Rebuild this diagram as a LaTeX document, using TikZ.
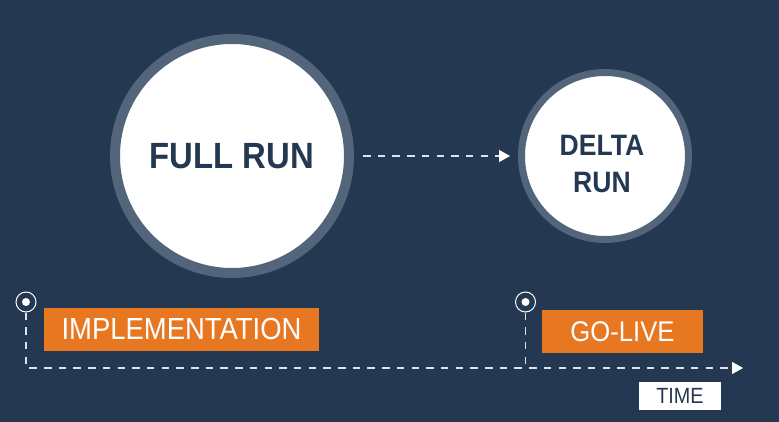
\documentclass[tikz,border=0pt]{standalone}
\usepackage{fontspec}
\setmainfont[FakeStretch=0.9]{Liberation Sans}
\usepackage{tikz}
\usetikzlibrary{arrows.meta}

\definecolor{BgBlue}{HTML}{253852}
\definecolor{RingBlue}{HTML}{52657A}
\definecolor{TagOrange}{HTML}{E87722}

\tikzset{
    run/.style={draw=RingBlue, line width=10pt, fill=white, circle, inner sep=0pt},
    runtext/.style={text=BgBlue, align=center, inner sep=0pt},
    tag/.style={fill=TagOrange, text=white, inner sep=0pt},
    pin/.style={draw=white, line width=1pt, circle, inner sep=0pt, minimum size=20pt},
    pindot/.style={fill=white, circle, inner sep=0pt, minimum size=8pt},
    timeline/.style={draw=white!85!BgBlue, line width=1.4pt, dash pattern=on 7.5pt off 7.2pt},
    timetip/.style={-{Triangle[length=11pt,width=12pt,color=white,fill=white]}}
}

\begin{document}
\begin{tikzpicture}[x=1pt, y=-1pt]

        % Background

        \fill[BgBlue] (0,0) rectangle (779,422);

        % Runs

        \node [run, minimum size=234pt] (full) at (232,156) {};
        \node [runtext,
        font=\fontsize{36.5}{36.5}\selectfont\bfseries
            ] (fulltext) at (full.center) {FULL RUN};

        \node [run, line width=7pt, minimum size=167pt] (delta) at (605,156) {};
        \node [runtext,
        xshift=-3pt,
        yshift=-7.5pt,
        font=\fontsize{29.5}{37}\selectfont\bfseries
            ] (deltatext) at (delta.center) {DELTA\\RUN};

        \draw[timeline, timetip, shorten <=9pt, shorten >=8pt] (full) -- (delta);

        % Milestones

        \node [tag,
        minimum width=275pt,
        minimum height=43pt,
        font=\fontsize{30.5}{30.5}\selectfont
            ] (impl) at (181.5,329.5) {\raisebox{1.5pt}{IMPLEMENTATION}};

        \node [tag,
        minimum width=161pt,
        minimum height=43pt,
        font=\fontsize{28.5}{28.5}\selectfont
            ] (golive) at (622.5,331.5) {GO-LIVE};

        \node [pin] (start) at (26,302) {};
        \node [pindot] (startdot) at (start.center) {};

        \node [pin] (live) at (525.5,302) {};
        \node [pindot] (livedot) at (live.center) {};

        % Time axis

        \coordinate (tend) at (743,368);

        \draw[timeline, timetip] (start.south) |- (tend);
        \draw[timeline] (live.south) -- (live.south |- tend);

        \node [fill=white,
        text=BgBlue,
        minimum width=82pt,
        minimum height=28pt,
        inner sep=0pt,
        font=\fontsize{22}{22}\selectfont
            ] (time) at (680,396) {TIME};

\end{tikzpicture}
\end{document}
